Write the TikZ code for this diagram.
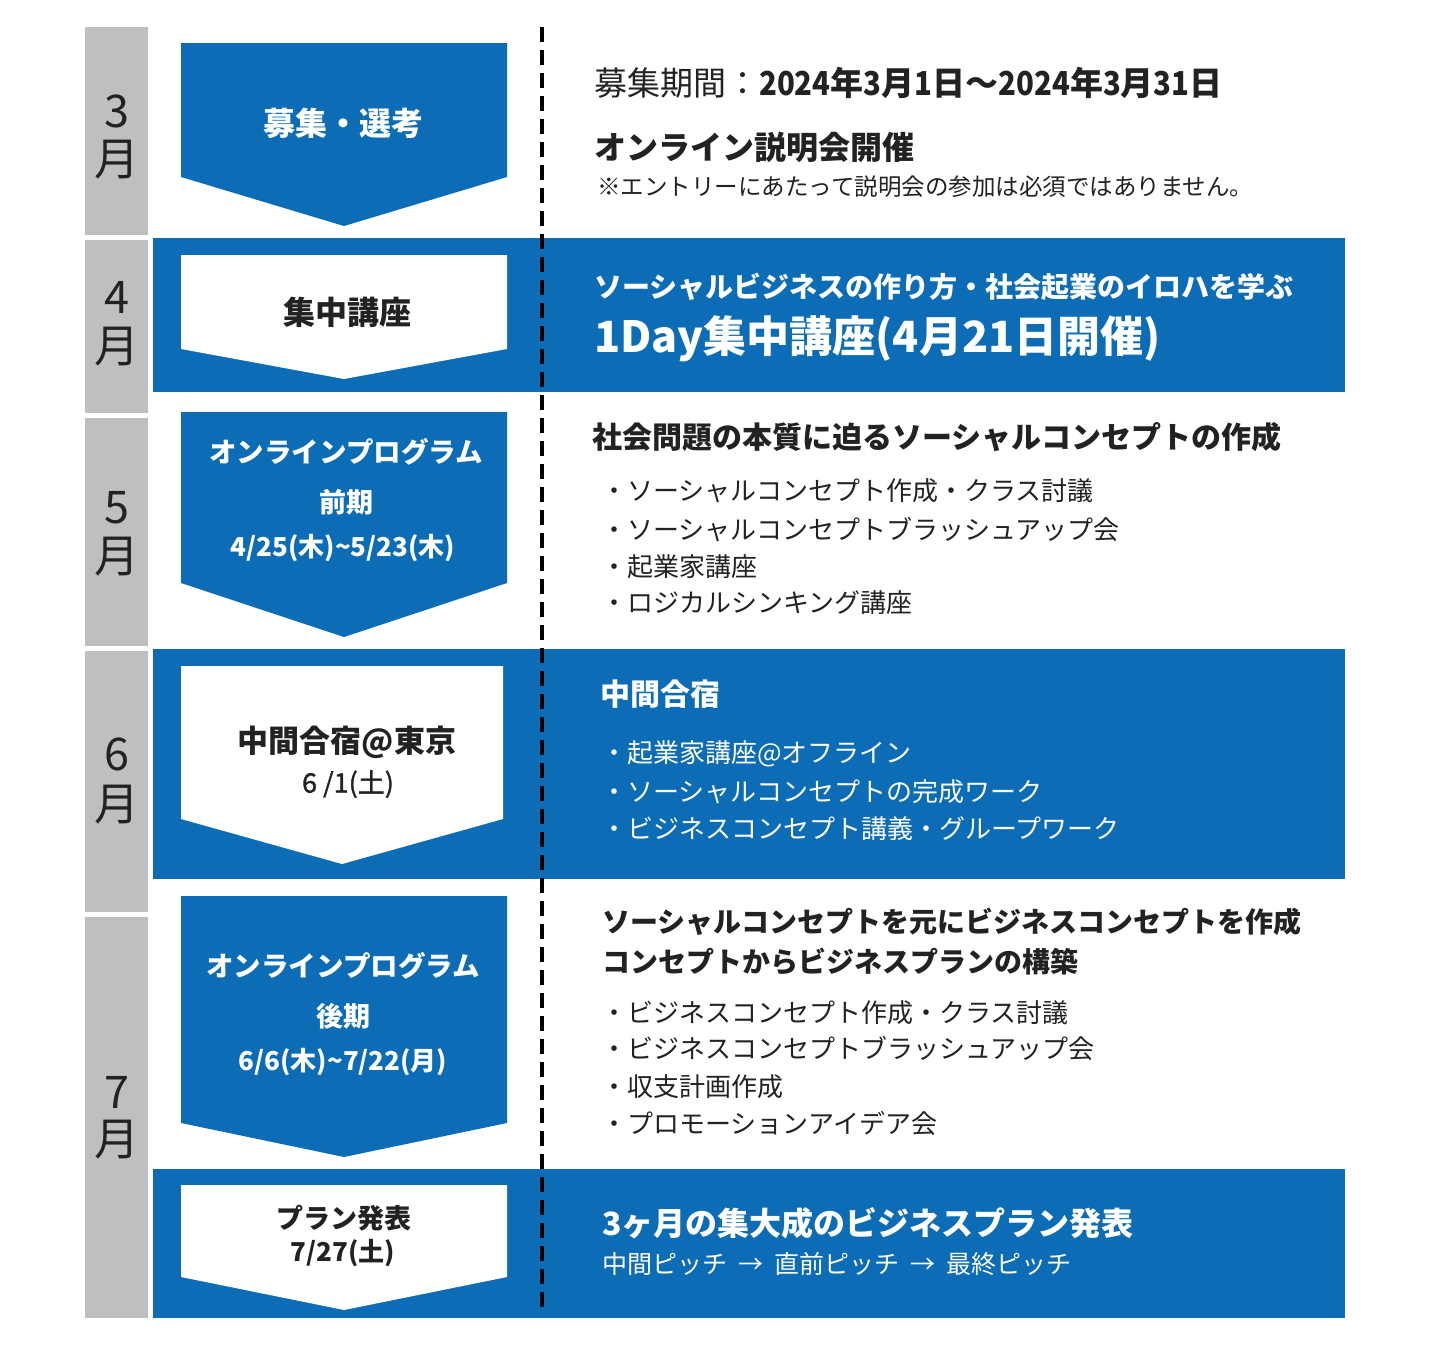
\documentclass[tikz,border=0pt]{standalone}
\usepackage{fontspec}
\setmainfont{Noto Sans CJK JP}
\newfontfamily\condfont{Noto Sans CJK JP}[FakeStretch=0.89]
\newfontfamily\medfont{Noto Sans CJK JP}[FakeBold=1.2]
\definecolor{tblue}{RGB}{12,108,182}
\definecolor{tgray}{RGB}{191,191,191}
\definecolor{tink}{RGB}{34,34,34}
\newcommand\fsz[1]{\fontsize{#1}{#1}\selectfont}
\newcommand\cd[1]{{\condfont\bfseries #1}}
\tikzset{
  monthlbl/.style={inner sep=0, text=tink, font=\fsz{45}},
  boxtxt/.style={inner sep=0, anchor=center},
  rtxt/.style={inner sep=0, anchor=west},
  bluefill/.style={fill=tblue},
  grayfill/.style={fill=tgray},
  dashline/.style={draw=black, line width=3.6pt, dash pattern=on 15pt off 8pt},
}
\begin{document}
\begin{tikzpicture}[x=1pt,y=-1pt]
\useasboundingbox (0,0) rectangle (1452,1350);
\fill[white] (0,0) rectangle (1452,1350);
% month column
\fill[grayfill] (85,27) rectangle (148,235);
\fill[grayfill] (85,240) rectangle (148,413);
\fill[grayfill] (85,418) rectangle (148,646);
\fill[grayfill] (85,651) rectangle (148,912);
\fill[grayfill] (85,917) rectangle (148,1318);
% blue bands
\fill[bluefill] (153,238) rectangle (1345,392);
\fill[bluefill] (153,649) rectangle (1345,879);
\fill[bluefill] (153,1169) rectangle (1345,1318);
% arrows
\fill[bluefill] (181,43) -- (507,43) -- (507,177) -- (344,226) -- (181,177) -- cycle;
\fill[white] (181,255) -- (507,255) -- (507,349) -- (344,379) -- (181,349) -- cycle;
\fill[bluefill] (181,412) -- (507,412) -- (507,583) -- (344,637) -- (181,583) -- cycle;
\fill[white] (181,666) -- (503,666) -- (503,819) -- (342,864) -- (181,819) -- cycle;
\fill[bluefill] (181,896) -- (507,896) -- (507,1123) -- (344,1157) -- (181,1123) -- cycle;
\fill[white] (181,1185) -- (507,1185) -- (507,1277) -- (344,1310) -- (181,1277) -- cycle;
% dashed divider
\coordinate (dtop) at (542,27);
\coordinate (dbot) at (542,1312);
\draw[dashline] (dtop) -- (dbot);
% month labels
\node[monthlbl] (m3a) at (117,111) {3};
\node[monthlbl] (m3b) at (117,160) {月};
\node[monthlbl] (m4a) at (117,297) {4};
\node[monthlbl] (m4b) at (117,347) {月};
\node[monthlbl] (m5a) at (117,508) {5};
\node[monthlbl] (m5b) at (117,557) {月};
\node[monthlbl] (m6a) at (117,754) {6};
\node[monthlbl] (m6b) at (117,805) {月};
\node[monthlbl] (m7a) at (117,1092) {7};
\node[monthlbl] (m7b) at (117,1140) {月};
% arrow texts
\node[boxtxt, text=white, font=\fsz{32}\bfseries] (a1) at (343,123) {募集・選考};
\node[boxtxt, text=tink, font=\fsz{32}\bfseries] (a2) at (347,312) {集中講座};
\node[boxtxt, text=white, font=\fsz{27.5}\bfseries] (a3a) at (346,452) {オンラインプログラム};
\node[boxtxt, text=white, font=\fsz{27}\bfseries] (a3b) at (346,502) {前期};
\node[boxtxt, text=white, font=\fsz{26}\bfseries] (a3c) at (343,548) {4/25(木)\char"7E 5/23(木)};
\node[boxtxt, text=tink, font=\fsz{31}\bfseries] (a4a) at (347,742) {中間合宿@東京};
\node[boxtxt, text=tink, font=\fsz{27}\medfont] (a4b) at (348,784) {6 /1(土)};
\node[boxtxt, text=white, font=\fsz{27.5}\bfseries] (a5a) at (343,966) {オンラインプログラム};
\node[boxtxt, text=white, font=\fsz{27}\bfseries] (a5b) at (343,1016) {後期};
\node[boxtxt, text=white, font=\fsz{26}\bfseries] (a5c) at (343,1062) {6/6(木)\char"7E 7/22(月)};
\node[boxtxt, text=tink, font=\fsz{27}\bfseries] (a6a) at (344,1218) {プラン発表};
\node[boxtxt, text=tink, font=\fsz{26}\bfseries] (a6b) at (343,1253) {7/27(土)};
% right texts: March
\node[rtxt, text=tink, font=\fsz{33}] (t1) at (594,83) {募集期間：\bfseries\cd{2024}年\cd{3}月\cd{1}日〜\cd{2024}年\cd{3}月\cd{31}日};
\node[rtxt, text=tink, font=\fsz{32}\bfseries] (t2) at (594,147) {オンライン説明会開催};
\node[rtxt, text=tink, font=\fsz{23.5}] (t3) at (597,187) {※エントリーにあたって説明会の参加は必須ではありません。};
% April
\node[rtxt, text=white, font=\fsz{28}\bfseries] (t4) at (594,287) {ソーシャルビジネスの作り方・社会起業のイロハを学ぶ};
\node[rtxt, text=white, font=\fsz{43}\bfseries] (t5) at (594,339) {1Day集中講座(4月21日開催)};
% May
\node[rtxt, text=tink, font=\fsz{30}\bfseries] (t6) at (592,437) {社会問題の本質に迫るソーシャルコンセプトの作成};
\node[rtxt, text=tink, font=\fsz{26}] (t7) at (601,491) {・ソーシャルコンセプト作成・クラス討議};
\node[rtxt, text=tink, font=\fsz{26}] (t8) at (601,530) {・ソーシャルコンセプトブラッシュアップ会};
\node[rtxt, text=tink, font=\fsz{26}] (t9) at (601,567) {・起業家講座};
\node[rtxt, text=tink, font=\fsz{26}] (t10) at (601,603) {・ロジカルシンキング講座};
% June
\node[rtxt, text=white, font=\fsz{30}\bfseries] (t11) at (600,694) {中間合宿};
\node[rtxt, text=white, font=\fsz{26}] (t12) at (601,754) {・起業家講座@オフライン};
\node[rtxt, text=white, font=\fsz{26}] (t13) at (601,792) {・ソーシャルコンセプトの完成ワーク};
\node[rtxt, text=white, font=\fsz{26}] (t14) at (601,829) {・ビジネスコンセプト講義・グループワーク};
% July
\node[rtxt, text=tink, font=\fsz{28}\bfseries] (t15) at (602,922) {ソーシャルコンセプトを元にビジネスコンセプトを作成};
\node[rtxt, text=tink, font=\fsz{28}\bfseries] (t16) at (602,962) {コンセプトからビジネスプランの構築};
\node[rtxt, text=tink, font=\fsz{26}] (t17) at (601,1013) {・ビジネスコンセプト作成・クラス討議};
\node[rtxt, text=tink, font=\fsz{26}] (t18) at (601,1048) {・ビジネスコンセプトブラッシュアップ会};
\node[rtxt, text=tink, font=\fsz{26}] (t19) at (601,1087) {・収支計画作成};
\node[rtxt, text=tink, font=\fsz{26}] (t20) at (601,1123) {・プロモーションアイデア会};
% Plan
\node[rtxt, text=white, font=\fsz{32}\bfseries] (t21) at (602,1223) {3ヶ月の集大成のビジネスプラン発表};
\node[rtxt, text=white, font=\fsz{25}] (t22) at (602,1264) {中間ピッチ\hspace{11pt}→\hspace{11pt}直前ピッチ\hspace{11pt}→\hspace{11pt}最終ピッチ};
\end{tikzpicture}
\end{document}
